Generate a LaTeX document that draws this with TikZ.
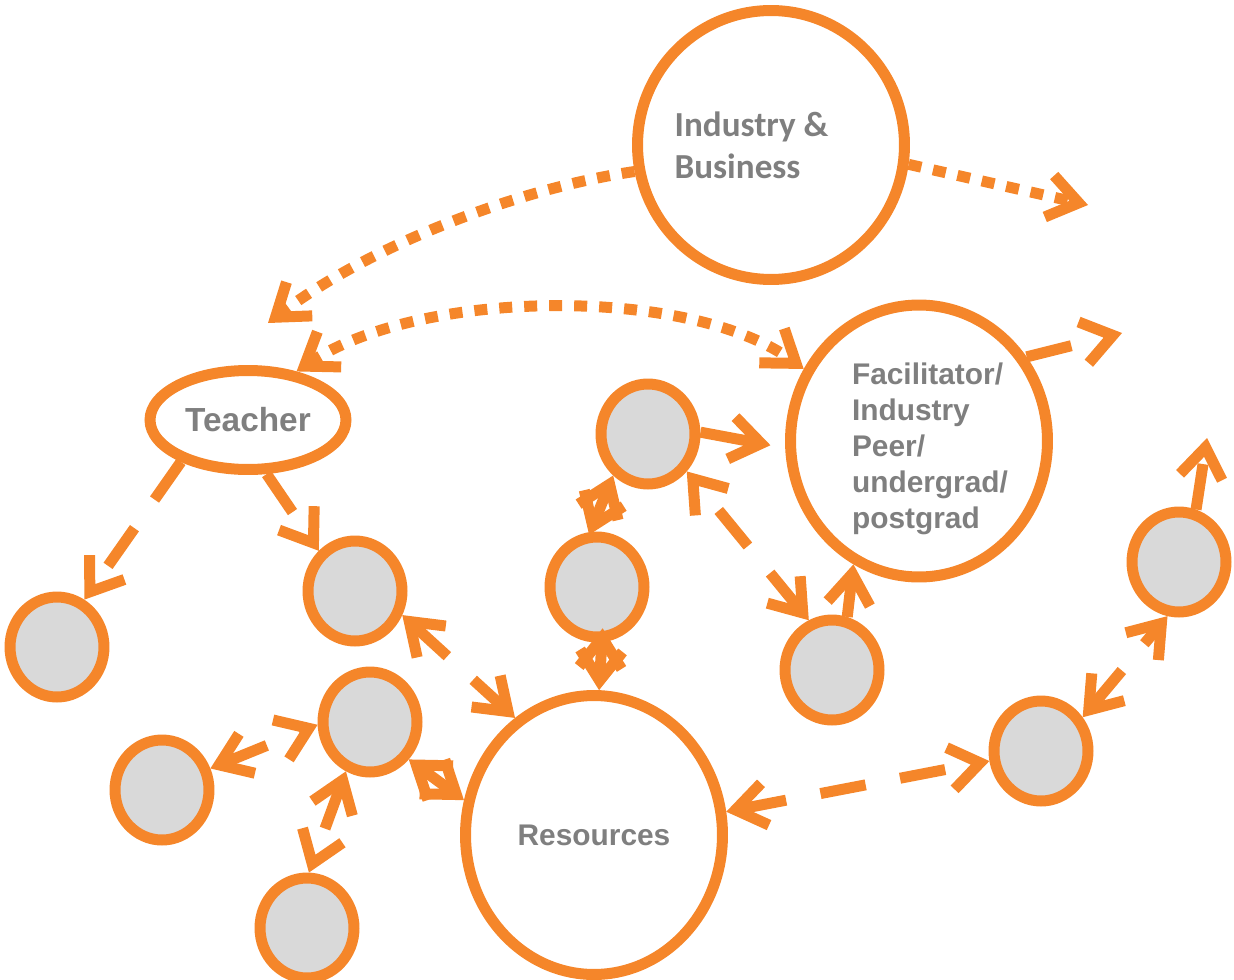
\documentclass[tikz,border=0pt]{standalone}
\usepackage{fontspec}
\setmainfont{Liberation Sans}
\newfontfamily\calfont{Carlito}
\usetikzlibrary{shapes.geometric,arrows.meta}
\definecolor{orng}{RGB}{245,134,42}
\definecolor{txtgray}{RGB}{127,127,127}
\definecolor{ballgray}{RGB}{217,217,217}

\begin{document}
\begin{tikzpicture}[x=0.02cm,y=-0.02cm,>={Straight Barb[length=0.6cm,width=0.85cm]},
ring/.style={ellipse,draw=orng,line width=0.22cm,inner sep=0pt,text=txtgray},
ball/.style={ring,fill=ballgray,minimum width=1.88cm,minimum height=2cm},
lbl/.style={inner sep=0pt,align=left,text=txtgray},
conn/.style={orng,line width=0.22cm,->},
dotconn/.style={conn,dash pattern=on 0.26cm off 0.24cm},
dashconn/.style={conn,dash pattern=on 0.92cm off 0.7cm}]
\useasboundingbox (0,0) rectangle (1234,980);
\node[ring,minimum width=5.34cm,minimum height=5.38cm,label={[lbl,font=\calfont\bfseries\fontsize{20}{23.8}\selectfont,xshift=-0.39cm]center:{Industry \&\\Business}}] (ind) at (771,145) {};
\node[ring,minimum width=5.14cm,minimum height=5.44cm,label={[lbl,font=\bfseries\fontsize{17}{20.4}\selectfont,xshift=0.22cm,yshift=-0.16cm]center:{Facilitator/\\Industry\\Peer/\\undergrad/\\postgrad}}] (fac) at (919,441) {};
\node[ring,minimum width=3.92cm,minimum height=1.98cm,font=\bfseries\fontsize{19}{23}\selectfont] (tch) at (248,420) {Teacher};
\node[ring,minimum width=5.14cm,minimum height=5.58cm,font=\bfseries\fontsize{17}{20}\selectfont] (res) at (594,835) {Resources};
\node[ball] (c1) at (57,647) {};
\node[ball] (c2) at (355,591) {};
\node[ball] (c3) at (370,722) {};
\node[ball] (c4) at (162,790) {};
\node[ball] (c5) at (307,928) {};
\node[ball] (c6) at (648,434) {};
\node[ball] (c7) at (597,587) {};
\node[ball] (c8) at (832,670) {};
\node[ball] (c9) at (1041,751) {};
\node[ball] (c10) at (1179,562) {};
\coordinate (indL) at (268,323);
\coordinate (indR) at (1088,205);
\coordinate (facR) at (1122,333);
\coordinate (upR) at (1207,438);
\draw[dotconn] (ind.191) .. controls (520,188) and (370,245) .. (indL);
\draw[dotconn] (ind.-8) -- (indR);
\draw[dotconn,<->] (tch.45) .. controls (420,288) and (690,286) .. (fac.148);
\draw[dashconn] (fac.38) -- (facR);
\draw[dashconn] (tch.212) -- (c1.60);
\draw[dashconn] (tch.-71) -- (c2.132);
\draw[dashconn,<->] (c2.-27) -- (res.124);
\draw[dashconn,<->] (c4.24) -- (c3.183);
\draw[dashconn,<->] (c3.244) -- (c5.88);
\draw[dashconn,<->] (c3.-44) -- (res.165);
\draw[conn,<->,shorten >=-0.06cm] (c6.230) -- (c7.97);
\draw[conn,<->,shorten <=-0.28cm] (c7.-85) -- (res.88);
\draw[conn,shorten >=0.3cm] (c6.2) -- (fac.183);
\draw[dashconn,<->] (c8.115) -- (c6.-44);
\draw[conn] (c8.74) -- (fac.242);
\draw[dashconn,<->] (res.10) -- (c9.191);
\draw[dashconn,<->] (c9.39) -- (c10.258);
\draw[dashconn] (c10.72) -- (upR);
\end{tikzpicture}
\end{document}
